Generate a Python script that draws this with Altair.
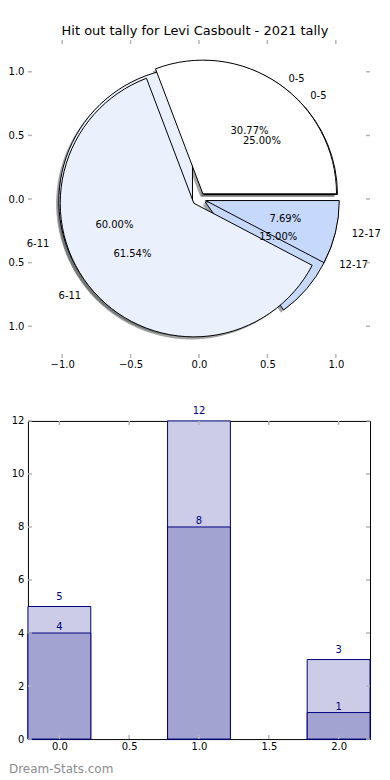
import altair as alt
import pandas as pd

# ---------------- data ----------------
categories = ["0-5", "6-11", "12-17"]
tally_total = [5, 12, 3]      # lighter bars / lower pie
tally_sub = [4, 8, 1]         # darker bars / upper pie
wedge_colors = ["#ffffff", "#eaf1fd", "#c6d9fd"]
bar_positions = [0, 1, 2]
pie_ticks = [-1.0, -0.5, 0.0, 0.5, 1.0]
bar_x_ticks = [0.0, 0.5, 1.0, 1.5, 2.0]
bar_y_ticks = [0, 2, 4, 6, 8, 10, 12]
title_text = ["Hit out tally for Levi Casboult - 2021 tally"]
watermark = ["Dream-Stats.com"]

# ---------------- styles ----------------
EXPLODE = 0.05
R = 134
W, H = 343, 319
TICK = "#b4b4b4"
NAVY = "#000080"
LIGHT = "#ccccE6"
DARK = "#a3a3d2"
FONT = "DejaVu Sans"

pie_df = pd.DataFrame({
    "pie": [0] * 3 + [1] * 3,
    "idx": [0, 1, 2] * 2,
    "cat": categories * 2,
    "value": tally_total + tally_sub,
})

pie_x = alt.Scale(domain=[-1.25, 1.25], nice=False, zero=False)
pie_y = alt.Scale(domain=[-1.25, 1.25], nice=False, zero=False)
pie_xaxis = alt.Axis(values=pie_ticks, format=".1f", title=None, ticks=False, tickSize=0,
                     domain=False, grid=False, labelFontSize=10, labelPadding=1,
                     labelColor="black", labelFlush=False)
pie_yaxis = alt.Axis(values=pie_ticks, format=".1f", title=None, ticks=False, tickSize=0,
                     domain=False, grid=False, labelFontSize=10, labelPadding=4,
                     labelColor="black", labelFlush=False)


def PX(f):
    return alt.X(f"{f}:Q", scale=pie_x, axis=pie_xaxis)


def PY(f):
    return alt.Y(f"{f}:Q", scale=pie_y, axis=pie_yaxis)


base = (
    alt.Chart(pie_df)
    .transform_joinaggregate(total="sum(value)", groupby=["pie"])
    .transform_window(cum="sum(value)", sort=[alt.SortField("idx")], groupby=["pie"])
    .transform_calculate(phi0="2*PI*(datum.cum - datum.value)/datum.total")
    .transform_calculate(phi1="2*PI*datum.cum/datum.total")
    .transform_calculate(mid="(datum.phi0 + datum.phi1)/2")
    .transform_calculate(a0="PI/2 - datum.phi1")
    .transform_calculate(a1="PI/2 - datum.phi0")
    .transform_calculate(cx=f"{EXPLODE}*cos(datum.mid)")
    .transform_calculate(cy=f"{EXPLODE}*sin(datum.mid)")
    .transform_calculate(sx="datum.cx - 0.02")
    .transform_calculate(sy="datum.cy - 0.02")
    .transform_calculate(px="datum.cx + 0.6*cos(datum.mid)")
    .transform_calculate(py="datum.cy + 0.6*sin(datum.mid)")
    .transform_calculate(lx="datum.cx + 1.1*cos(datum.mid)")
    .transform_calculate(ly="datum.cy + 1.1*sin(datum.mid)")
    .transform_calculate(pct="format(100*datum.value/datum.total, '.2f') + '%'")
)

color_enc = alt.Color("cat:N", scale=alt.Scale(domain=categories, range=wedge_colors), legend=None)

shadows = base.mark_arc(radius=R, fill="#4a4b4c", fillOpacity=0.5).encode(
    x=PX("sx"), y=PY("sy"),
    theta=alt.Theta("a0:Q", scale=None), theta2="a1:Q",
)


def wedges(pid):
    return base.transform_filter(f"datum.pie == {pid}").mark_arc(
        radius=R, stroke="black", strokeWidth=1
    ).encode(
        x=PX("cx"), y=PY("cy"),
        theta=alt.Theta("a0:Q", scale=None), theta2="a1:Q",
        color=color_enc,
    )


pct_text = base.mark_text(fontSize=10, color="black", baseline="middle", align="center").encode(
    x=PX("px"), y=PY("py"), text="pct:N"
)
lab_right = base.transform_filter("cos(datum.mid) > 0").mark_text(
    fontSize=10, color="black", baseline="middle", align="left"
).encode(x=PX("lx"), y=PY("ly"), text="cat:N")
lab_left = base.transform_filter("cos(datum.mid) <= 0").mark_text(
    fontSize=10, color="black", baseline="middle", align="right"
).encode(x=PX("lx"), y=PY("ly"), text="cat:N")

ptick = pd.DataFrame({"v": pie_ticks})
pt_top = alt.Chart(ptick).mark_rule(color=TICK, strokeWidth=1.5).encode(
    x=PX("v"), y=alt.value(0), y2=alt.value(4))
pt_bot = alt.Chart(ptick).mark_rule(color=TICK, strokeWidth=1.5).encode(
    x=PX("v"), y=alt.value(H - 4), y2=alt.value(H))
pt_left = alt.Chart(ptick).mark_rule(color=TICK, strokeWidth=1.5).encode(
    y=PY("v"), x=alt.value(0), x2=alt.value(4))
pt_right = alt.Chart(ptick).mark_rule(color=TICK, strokeWidth=1.5).encode(
    y=PY("v"), x=alt.value(W - 4), x2=alt.value(W))

title_mark = alt.Chart(pd.DataFrame({"t": title_text})).mark_text(
    fontSize=13, color="black", align="center", baseline="alphabetic"
).encode(x=alt.value(167.5), y=alt.value(-5), text="t:N")

top = alt.layer(
    shadows, wedges(0), wedges(1), pct_text, lab_right, lab_left,
    pt_top, pt_bot, pt_left, pt_right, title_mark,
).properties(width=W, height=H)

# ---------------- bar chart ----------------
bar_df = pd.DataFrame({"pos": bar_positions, "light": tally_total, "dark": tally_sub})

bx = alt.Scale(domain=[-0.225, 2.225], nice=False, zero=False)
by = alt.Scale(domain=[0, 12], nice=False, zero=False)
bxaxis = alt.Axis(values=bar_x_ticks, format=".1f", title=None, ticks=False, tickSize=0,
                  domain=False, grid=False, labelFontSize=10, labelPadding=2,
                  labelColor="black", labelFlush=False)
byaxis = alt.Axis(values=bar_y_ticks, format="d", title=None, ticks=False, tickSize=0,
                  domain=False, grid=False, labelFontSize=10, labelPadding=4,
                  labelColor="black", labelFlush=False)


def BX(f):
    return alt.X(f"{f}:Q", scale=bx, axis=bxaxis)


def BY(f):
    return alt.Y(f"{f}:Q", scale=by, axis=byaxis)


bbase = alt.Chart(bar_df).transform_calculate(
    x0="datum.pos - 0.225").transform_calculate(x1="datum.pos + 0.225")

light_bars = bbase.mark_rect(fill=LIGHT, stroke=NAVY, strokeWidth=1).encode(
    x=BX("x0"), x2="x1:Q", y=BY("light"), y2=alt.datum(0))
dark_bars = bbase.mark_rect(fill=DARK, stroke=NAVY, strokeWidth=1).encode(
    x=BX("x0"), x2="x1:Q", y=BY("dark"), y2=alt.datum(0))
light_txt = bbase.mark_text(dy=-9.5, fontSize=10, color=NAVY, baseline="middle").encode(
    x=BX("pos"), y=BY("light"), text="light:Q")
dark_txt = bbase.mark_text(dy=-6, fontSize=10, color=NAVY, baseline="middle").encode(
    x=BX("pos"), y=BY("dark"), text="dark:Q")

bxt = pd.DataFrame({"v": bar_x_ticks})
byt = pd.DataFrame({"v": bar_y_ticks})
bt_top = alt.Chart(bxt).mark_rule(color=TICK, strokeWidth=1.5).encode(
    x=BX("v"), y=alt.value(0), y2=alt.value(4))
bt_bot = alt.Chart(bxt).mark_rule(color=TICK, strokeWidth=1.5).encode(
    x=BX("v"), y=alt.value(H - 4), y2=alt.value(H))
bt_left = alt.Chart(byt).mark_rule(color=TICK, strokeWidth=1.5).encode(
    y=BY("v"), x=alt.value(0), x2=alt.value(4))
bt_right = alt.Chart(byt).mark_rule(color=TICK, strokeWidth=1.5).encode(
    y=BY("v"), x=alt.value(W - 4), x2=alt.value(W))

wm = alt.Chart(pd.DataFrame({"t": watermark})).mark_text(
    fontSize=12, color="#8c8c8c", align="left", baseline="middle"
).encode(x=alt.value(-19), y=alt.value(H + 30), text="t:N")

bottom = alt.layer(
    light_bars, dark_bars, light_txt, dark_txt, bt_top, bt_bot, bt_left, bt_right, wm
).properties(width=W, height=H, view=alt.ViewBackground(stroke="black", strokeWidth=1))

chart = alt.vconcat(top, bottom, spacing=63, bounds="flush").properties(
    padding={"left": -9, "top": 15, "right": 0, "bottom": 0}
).configure(font=FONT).configure_view(stroke="transparent")

chart.save("out.html", embed_options={"renderer": "svg", "actions": False})
